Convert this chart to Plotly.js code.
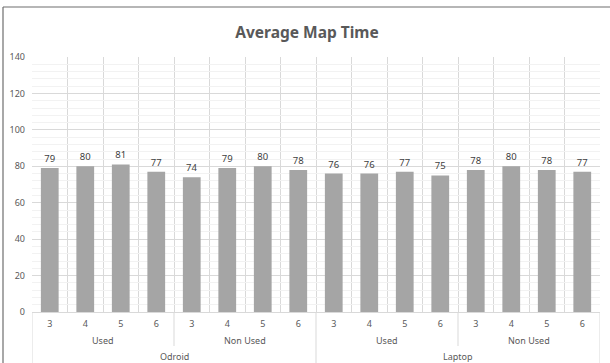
<!DOCTYPE html>
<html>
<head>
<meta charset="utf-8">
<script src="https://cdn.plot.ly/plotly-3.0.1.min.js"></script>
<style>
  html, body { margin: 0; padding: 0; background: #fff; }
  #chart { width: 610px; height: 363px; }
</style>
</head>
<body>
<div id="chart"></div>
<script>
// Average map time per job count, grouped by usage state and platform
const platforms = ["Odroid", "Laptop"];
const states = ["Used", "Non Used"];
const jobs = ["3", "4", "5", "6"];
const mapTime = [79, 80, 81, 77, 74, 79, 80, 78, 76, 76, 77, 75, 78, 80, 78, 77];

const W = 610, H = 363;
const M = { l: 32, r: 10, t: 57, b: 51 };
const plotW = W - M.l - M.r, plotH = H - M.t - M.b;
const pxX = px => (px - M.l) / plotW;          // pixel -> paper x
const pxY = py => (H - M.b - py) / plotH;      // pixel -> paper y

const n = mapTime.length;
const idx = mapTime.map((_, i) => i);
const tickText = idx.map(i => jobs[i % jobs.length]);

const perState = jobs.length;
const perPlatform = jobs.length * states.length;

const annotations = [];
const shapes = [];
const grey = "#595959";
const lineCol = "#d9d9d9";

// second level: usage state labels
for (let p = 0; p < platforms.length; p++) {
  for (let s = 0; s < states.length; s++) {
    const start = p * perPlatform + s * perState;
    annotations.push({
      x: start + (perState - 1) / 2, xref: "x",
      y: pxY(340), yref: "paper", yanchor: "middle",
      text: states[s], showarrow: false,
      font: { size: 9, color: grey }
    });
  }
  // third level: platform labels
  const pStart = p * perPlatform;
  annotations.push({
    x: pStart + (perPlatform - 1) / 2, xref: "x",
    y: pxY(356), yref: "paper", yanchor: "middle",
    text: platforms[p], showarrow: false,
    font: { size: 9, color: grey }
  });
}

// dividers below the axis
for (let b = 0; b <= n; b += perState) {
  const isPlatformEdge = b % perPlatform === 0;
  shapes.push({
    type: "line", xref: "x", yref: "paper",
    x0: b - 0.5, x1: b - 0.5,
    y0: 0, y1: isPlatformEdge ? pxY(H) : pxY(346),
    line: { color: lineCol, width: 1 }
  });
}

// chart frame edges (top and left)
shapes.push({
  type: "line", xref: "paper", yref: "paper",
  x0: pxX(3), x1: pxX(W), y0: pxY(7), y1: pxY(7),
  line: { color: "#6e6e6e", width: 1.2 }
});
shapes.push({
  type: "line", xref: "paper", yref: "paper",
  x0: pxX(3), x1: pxX(3), y0: pxY(7), y1: pxY(H),
  line: { color: "#6e6e6e", width: 1.2 }
});

const trace = {
  type: "bar",
  x: idx,
  y: mapTime,
  text: mapTime.map(String),
  textposition: "outside",
  cliponaxis: false,
  textfont: { size: 9.5, color: "#404040" },
  marker: { color: "#a5a5a5", line: { width: 0 } },
  hoverinfo: "skip"
};

const layout = {
  width: W, height: H,
  margin: M,
  paper_bgcolor: "#ffffff",
  plot_bgcolor: "#ffffff",
  font: { family: "Noto Sans, Open Sans, sans-serif", size: 9, color: grey },
  title: {
    text: "<b>Average Map Time</b>",
    x: 307 / W, xref: "container", xanchor: "center",
    y: 1 - 33 / H, yref: "container", yanchor: "middle",
    font: { size: 15.5, color: grey }
  },
  bargap: 0.5,
  showlegend: false,
  xaxis: {
    range: [-0.5, n - 0.5],
    tickmode: "array", tickvals: idx, ticktext: tickText,
    ticks: "", showgrid: false, zeroline: false,
    showline: false, ticklabelstandoff: 5,
    tickfont: { size: 9, color: grey },
    minor: {
      tickmode: "array", tickvals: idx.concat([n]).map(i => i - 0.5),
      showgrid: true, gridcolor: lineCol, gridwidth: 1, ticks: ""
    },
    fixedrange: true
  },
  yaxis: {
    range: [0, 140], dtick: 20, tick0: 0,
    showgrid: true, gridcolor: lineCol, gridwidth: 1,
    zeroline: true, zerolinecolor: lineCol, zerolinewidth: 1,
    ticks: "", ticklabelstandoff: 6,
    tickfont: { size: 9, color: grey },
    minor: { dtick: 4, showgrid: true, gridcolor: "#f2f2f2", gridwidth: 1 },
    fixedrange: true
  },
  annotations: annotations,
  shapes: shapes
};

Plotly.newPlot("chart", [trace], layout, { staticPlot: true, displayModeBar: false });
</script>
</body>
</html>
